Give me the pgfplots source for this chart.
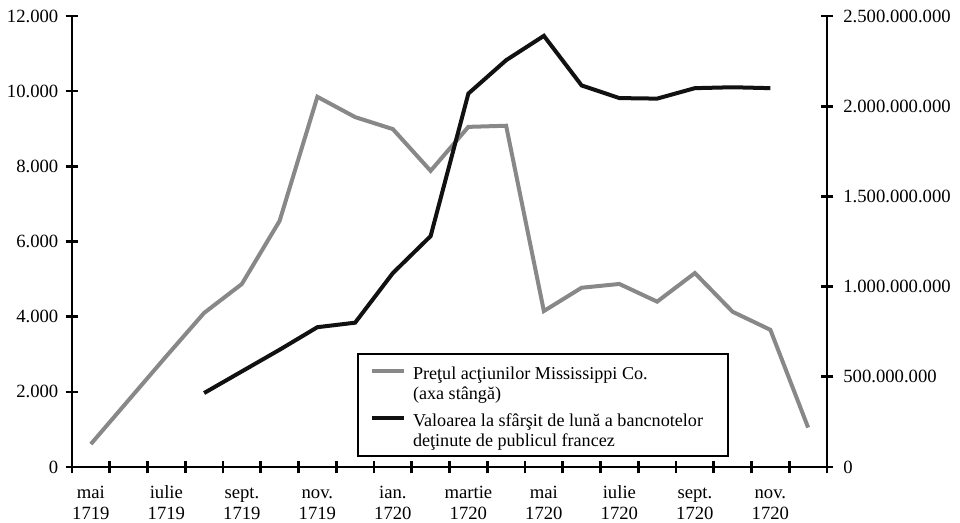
\documentclass[border=0pt]{standalone}
\usepackage{fontspec}
\setmainfont{Liberation Serif}
\usepackage{pgfplots}
\pgfplotsset{compat=1.18}
\definecolor{lgray}{RGB}{136,136,136}
\definecolor{dblack}{RGB}{17,17,17}
\newcommand{\lfont}{\fontsize{14}{15.75}\selectfont}
\newcommand{\gfont}{\fontsize{13.6}{16}\selectfont}
\begin{document}
\begin{tikzpicture}[x=1pt,y=1pt]
\useasboundingbox (0,0) rectangle (720,391.5);
\pgfplotsset{
  common/.style={
    at={(54pt,41.25pt)}, anchor=south west,
    scale only axis, width=566.25pt, height=338.25pt,
    xmin=0, xmax=20, ymin=0,
    scaled y ticks=false, scaled x ticks=false,
    axis line style={line width=2pt, black},
    tick align=center, major tick length=9.5pt,
    tick style={line width=2pt, black},
    every tick label/.append style={font=\lfont},
  }
}
% left axis: share price
\begin{axis}[common,
  ymax=12000,
  axis x line*=bottom, axis y line*=left,
  xtick={0,...,20}, x tick label as interval,
  xticklabels={{\strut mai\\1719},{},{\strut iulie\\1719},{},{\strut sept.\\1719},{},{\strut nov.\\1719},{},{\strut ian.\\1720},{},{\strut martie\\1720},{},{\strut mai\\1720},{},{\strut iulie\\1720},{},{\strut sept.\\1720},{},{\strut nov.\\1720},{}},
  xticklabel style={align=center, anchor=north, yshift=-4pt},
  yticklabel style={xshift=-2pt},
  ytick={0,2000,4000,6000,8000,10000,12000},
  yticklabels={0,2.000,4.000,6.000,8.000,10.000,12.000},
]
\addplot[lgray, line width=3pt] coordinates {
(0.5,610) (1.5,1780) (2.5,2950) (3.5,4100) (4.5,4870) (5.5,6550)
(6.5,9850) (7.5,9310) (8.5,8990) (9.5,7880) (10.5,9050) (11.5,9080)
(12.5,4150) (13.5,4770) (14.5,4870) (15.5,4400) (16.5,5160) (17.5,4130)
(18.5,3650) (19.5,1050)
};
\end{axis}
% right axis: banknotes (millions of livres)
\begin{axis}[common,
  ymax=2500,
  axis x line=none, axis y line*=right,
  ytick={0,500,1000,1500,2000,2500},
  yticklabels={0,500.000.000,1.000.000.000,1.500.000.000,2.000.000.000,2.500.000.000},
  yticklabel style={xshift=4pt},
  legend image code/.code={\draw[#1] (0pt,6.75pt) -- (24pt,6.75pt);},
  legend style={at={(0.3775,0.2528)}, anchor=north west,
    draw=black, line width=1.5pt, fill=white,
    inner xsep=9pt, inner ysep=1.75pt, row sep=0pt, column sep=5.25pt,
    font=\gfont,
    cells={anchor=base west},
    nodes={inner xsep=0pt, inner ysep=0pt, text depth=, text height=}},
]
\addlegendimage{lgray, line width=3pt}
\addlegendentry{\rule[-5pt]{0pt}{22.75pt}Preţul acţiunilor Mississippi Co.}
\addlegendimage{empty legend}
\addlegendentry{\rule[-10.25pt]{0pt}{20.25pt}(axa stângă)}
\addplot[dblack, line width=3pt] coordinates {
(3.5,410) (4.5,530) (5.5,650) (6.5,775) (7.5,800) (8.5,1075)
(9.5,1280) (10.5,2070) (11.5,2255) (12.5,2390) (13.5,2115) (14.5,2045)
(15.5,2042) (16.5,2100) (17.5,2105) (18.5,2100)
};
\addlegendentry{\rule[-5pt]{0pt}{15pt}Valoarea la sfârşit de lună a bancnotelor\rule{9.5pt}{0pt}}
\addlegendimage{empty legend}
\addlegendentry{\rule[-5pt]{0pt}{15pt}deţinute de publicul francez}
\end{axis}
\end{tikzpicture}
\end{document}
